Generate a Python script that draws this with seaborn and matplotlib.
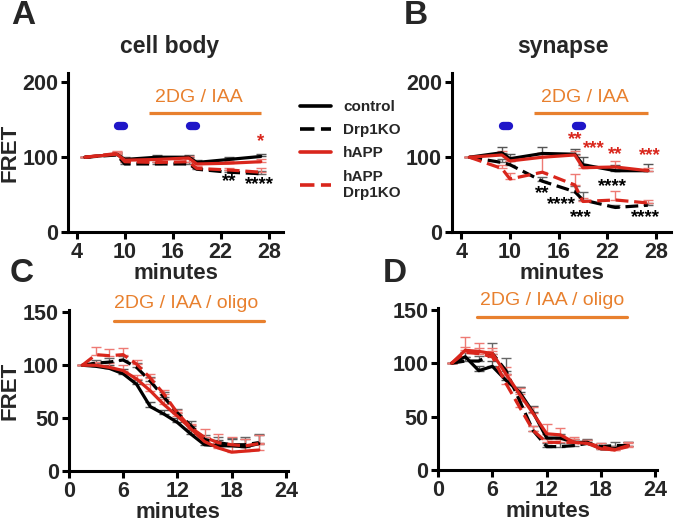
import numpy as np
import pandas as pd
import matplotlib
matplotlib.use("Agg")
import matplotlib.pyplot as plt
import seaborn as sns

# ---------------- data ----------------
groups = ["control", "Drp1KO", "hAPP", "hAPP\nDrp1KO"]

# Panels A / B (cell body / synapse), minutes
t_ab = [5, 9, 10, 14, 18, 19, 23, 27]

a_control = [100, 104, 97, 100, 100, 93, 97, 101]
a_drp1ko = [100, 103, 91, 91, 91, 84, 80, 78]
a_happ = [100, 104, 96, 97, 99, 91, 92, 94]
a_happ_drp1ko = [100, 105, 94, 93, 94, 85, 83, 80]
a_err_control = [0, 3, 3, 3, 3, 3, 3, 3]
a_err_drp1ko = [0, 3, 3, 3, 3, 3, 3, 3]
a_err_happ = [0, 3, 3, 3, 3, 3, 3, 3]
a_err_happ_drp1ko = [0, 3, 3, 3, 3, 3, 3, 6]

b_control = [100, 106, 98, 105, 104, 90, 82, 82]
b_drp1ko = [100, 93, 90, 68, 54, 43, 33, 36]
b_happ = [100, 103, 95, 100, 103, 86, 87, 82]
b_happ_drp1ko = [100, 85, 71, 80, 63, 41, 43, 39]
b_err_control = [0, 7, 6, 8, 7, 10, 8, 9]
b_err_drp1ko = [0, 5, 5, 5, 8, 11, 3, 3]
b_err_happ = [0, 5, 5, 6, 5, 5, 8, 3]
b_err_happ_drp1ko = [0, 5, 8, 26, 14, 5, 12, 4]

# Panels C / D, minutes
t_cd = [1.5, 3, 4.5, 6, 7.5, 9, 10.5, 12, 13.5, 15, 16.5, 18, 19.5, 21]

c_control = [100, 99, 97, 92, 82, 61, 54, 46, 35, 25, 24, 24, 23, 26]
c_drp1ko = [100, 102, 103, 105, 98, 85, 70, 55, 43, 30, 27, 25, 25, 27]
c_happ = [100, 100, 98, 95, 87, 76, 63, 52, 40, 28, 22, 18, 19, 20]
c_happ_drp1ko = [100, 110, 109, 110, 101, 88, 73, 55, 41, 32, 27, 25, 24, 26]
c_err_control = [0, 3, 3, 4, 4, 4, 4, 4, 4, 4, 5, 6, 7, 8]
c_err_drp1ko = [0, 3, 4, 4, 4, 4, 5, 4, 4, 4, 5, 6, 7, 8]
c_err_happ = [0, 3, 4, 5, 4, 6, 5, 4, 4, 4, 5, 6, 6, 7]
c_err_happ_drp1ko = [0, 7, 6, 6, 4, 4, 4, 3, 4, 8, 8, 7, 6, 8]

d_control = [100, 106, 93, 97, 84, 73, 54, 30, 30, 26, 26, 20, 20, 23]
d_drp1ko = [100, 102, 102, 109, 93, 65, 37, 22, 22, 23, 25, 22, 23, 23]
d_happ = [100, 112, 111, 109, 90, 71, 53, 34, 33, 26, 25, 20, 19, 23]
d_happ_drp1ko = [100, 110, 109, 106, 81, 59, 37, 26, 26, 26, 25, 22, 19, 22]
d_err_control = [0, 4, 4, 5, 6, 5, 6, 4, 4, 3, 3, 3, 3, 3]
d_err_drp1ko = [0, 4, 5, 10, 12, 13, 4, 3, 3, 3, 3, 3, 3, 3]
d_err_happ = [0, 12, 8, 5, 6, 6, 6, 9, 6, 5, 3, 3, 3, 3]
d_err_happ_drp1ko = [0, 5, 5, 5, 8, 6, 4, 3, 3, 3, 3, 3, 3, 3]

ab_ticks = [4, 10, 16, 22, 28]
ab_yticks = [0, 100, 200]
cd_ticks = [0, 6, 12, 18, 24]
cd_yticks = [0, 50, 100, 150]

# significance annotations: (minutes, FRET, text, colour key)
a_stars = [(27, 121, "*", "red"), (23.1, 68, "**", "black"), (26.9, 63, "****", "black")]
b_stars = [(18.0, 124, "**", "red"), (20.3, 112, "***", "red"), (23.0, 103, "**", "red"),
           (27.3, 102, "***", "red"), (14.0, 52, "**", "black"), (16.4, 37, "****", "black"),
           (18.8, 19, "***", "black"), (22.7, 61, "****", "black"), (26.7, 19, "****", "black")]

# ---------------- style ----------------
RED = "#D9261C"
BLACK = "#000000"
ORANGE = "#E8802E"
BLUE = "#1F16C8"
palette = {groups[0]: BLACK, groups[1]: BLACK, groups[2]: RED, groups[3]: RED}
dashes = {groups[0]: "", groups[1]: (4, 1.8), groups[2]: "", groups[3]: (4, 1.8)}
err_colors = {groups[0]: "#555555", groups[1]: "#666666", groups[2]: "#EE7A74", groups[3]: "#EE7A74"}
star_colors = {"red": RED, "black": BLACK}

sns.set_theme(style="ticks")
plt.rcParams["font.family"] = ["Liberation Sans", "DejaVu Sans"]
plt.rcParams["font.weight"] = "bold"

fig = plt.figure(figsize=(6.74, 5.23), dpi=100)
fig.patch.set_facecolor("white")


def make_df(t, series, errs):
    rows = []
    for g, vals, e in zip(groups, series, errs):
        for x, v, ee in zip(t, vals, e):
            rows.append({"minutes": x, "FRET": v, "err": ee, "group": g})
    return pd.DataFrame(rows)


def draw_panel(rect, df, xlim, ylim, xticks, yticks, ylabel, legend=False):
    ax = fig.add_axes(rect)
    for g in groups:
        sub = df[df.group == g]
        ax.errorbar(sub.minutes, sub.FRET, yerr=[np.zeros(len(sub)), sub.err],
                    fmt="none", ecolor=err_colors[g], elinewidth=1.0, capsize=3.5,
                    capthick=1.0, zorder=1)
    sns.lineplot(data=df, x="minutes", y="FRET", hue="group", style="group",
                 palette=palette, dashes=dashes, hue_order=groups, style_order=groups,
                 linewidth=2.3, ax=ax, legend=legend, zorder=3)
    ax.set_xlim(*xlim)
    ax.set_ylim(*ylim)
    ax.set_xticks(xticks)
    ax.set_yticks(yticks)
    sns.despine(ax=ax)
    for s in ["left", "bottom"]:
        ax.spines[s].set_linewidth(2.2)
        ax.spines[s].set_color("black")
    ax.tick_params(axis="both", length=5, width=2.2, direction="out", color="black",
                   labelsize=15.5, pad=2)
    for lab in ax.get_xticklabels() + ax.get_yticklabels():
        lab.set_fontweight("bold")
    ax.set_xlabel("minutes", fontsize=16, fontweight="bold", labelpad=0)
    if ylabel:
        ax.set_ylabel("FRET", fontsize=16, fontweight="bold")
        width_px = rect[2] * 674
        ax.yaxis.set_label_coords(-(rect[0] * 674 - 21) / width_px, 0.5)
    else:
        ax.set_ylabel("")
    ax.set_facecolor("white")
    return ax


# ---- Panel A ----
dfA = make_df(t_ab, [a_control, a_drp1ko, a_happ, a_happ_drp1ko],
              [a_err_control, a_err_drp1ko, a_err_happ, a_err_happ_drp1ko])
axA = draw_panel([0.101, 0.556, 0.319, 0.304], dfA, (2.9, 29.8), (0, 212),
                 ab_ticks, ab_yticks, True, legend=True)
handles, labels = axA.get_legend_handles_labels()
axA.get_legend().remove()

# ---- Panel B ----
dfB = make_df(t_ab, [b_control, b_drp1ko, b_happ, b_happ_drp1ko],
              [b_err_control, b_err_drp1ko, b_err_happ, b_err_happ_drp1ko])
axB = draw_panel([0.670, 0.556, 0.326, 0.304], dfB, (2.8, 29.9), (0, 212),
                 ab_ticks, ab_yticks, False)

# ---- Panel C ----
dfC = make_df(t_cd, [c_control, c_drp1ko, c_happ, c_happ_drp1ko],
              [c_err_control, c_err_drp1ko, c_err_happ, c_err_happ_drp1ko])
axC = draw_panel([0.102, 0.099, 0.325, 0.308], dfC, (0, 24.2), (0, 152),
                 cd_ticks, cd_yticks, True)

# ---- Panel D ----
dfD = make_df(t_cd, [d_control, d_drp1ko, d_happ, d_happ_drp1ko],
              [d_err_control, d_err_drp1ko, d_err_happ, d_err_happ_drp1ko])
axD = draw_panel([0.650, 0.101, 0.325, 0.311], dfD, (0, 24.2), (0, 152),
                 cd_ticks, cd_yticks, False)

# treatment bars and stimulation pills for A and B
for ax in (axA, axB):
    ax.plot([13, 27], [159, 159], color=ORANGE, lw=2.3, solid_capstyle="butt",
            clip_on=False)
    ax.text(19.3, 179, "2DG / IAA", color=ORANGE, fontsize=14, fontweight="normal",
            ha="center", va="center")
    for x0, x1 in [(9.1, 9.9), (18.1, 18.9)]:
        ax.plot([x0, x1], [141, 141], color=BLUE, lw=6, solid_capstyle="round")

axC.plot([5, 21.6], [142, 142], color=ORANGE, lw=2.3, clip_on=False)
axC.text(13.0, 158, "2DG / IAA / oligo", color=ORANGE, fontsize=14,
         fontweight="normal", ha="center", va="center", clip_on=False)
axD.plot([4.3, 20.9], [143, 143], color=ORANGE, lw=2.3, clip_on=False)
axD.text(12.6, 159, "2DG / IAA / oligo", color=ORANGE, fontsize=14,
         fontweight="normal", ha="center", va="center", clip_on=False)

for ax, stars in ((axA, a_stars), (axB, b_stars)):
    for x, y, s, c in stars:
        ax.text(x, y, s, color=star_colors[c], fontsize=13.5, fontweight="bold",
                ha="center", va="center")

# titles and panel letters
fig.text(170 / 674, 1 - 47 / 523, "cell body", fontsize=16.5, fontweight="bold",
         ha="center", va="center")
fig.text(563 / 674, 1 - 47 / 523, "synapse", fontsize=16.5, fontweight="bold",
         ha="center", va="center")
for x, y, s in [(23, 16, "A"), (416, 16, "B"), (22, 273, "C"), (395, 273, "D")]:
    fig.text(x / 674, 1 - y / 523, s, fontsize=24, fontweight="bold",
             ha="center", va="center")

# legend
leg = fig.legend(handles, labels, loc="upper left",
                 bbox_to_anchor=(294 / 674, 1 - 94 / 523), frameon=False,
                 prop={"weight": "bold", "size": 11}, handlelength=2.0,
                 handletextpad=0.8, labelspacing=0.6, borderaxespad=0)
for h in leg.get_lines():
    h.set_linewidth(2.6)

fig.savefig("out.png", dpi=100, facecolor="white")
